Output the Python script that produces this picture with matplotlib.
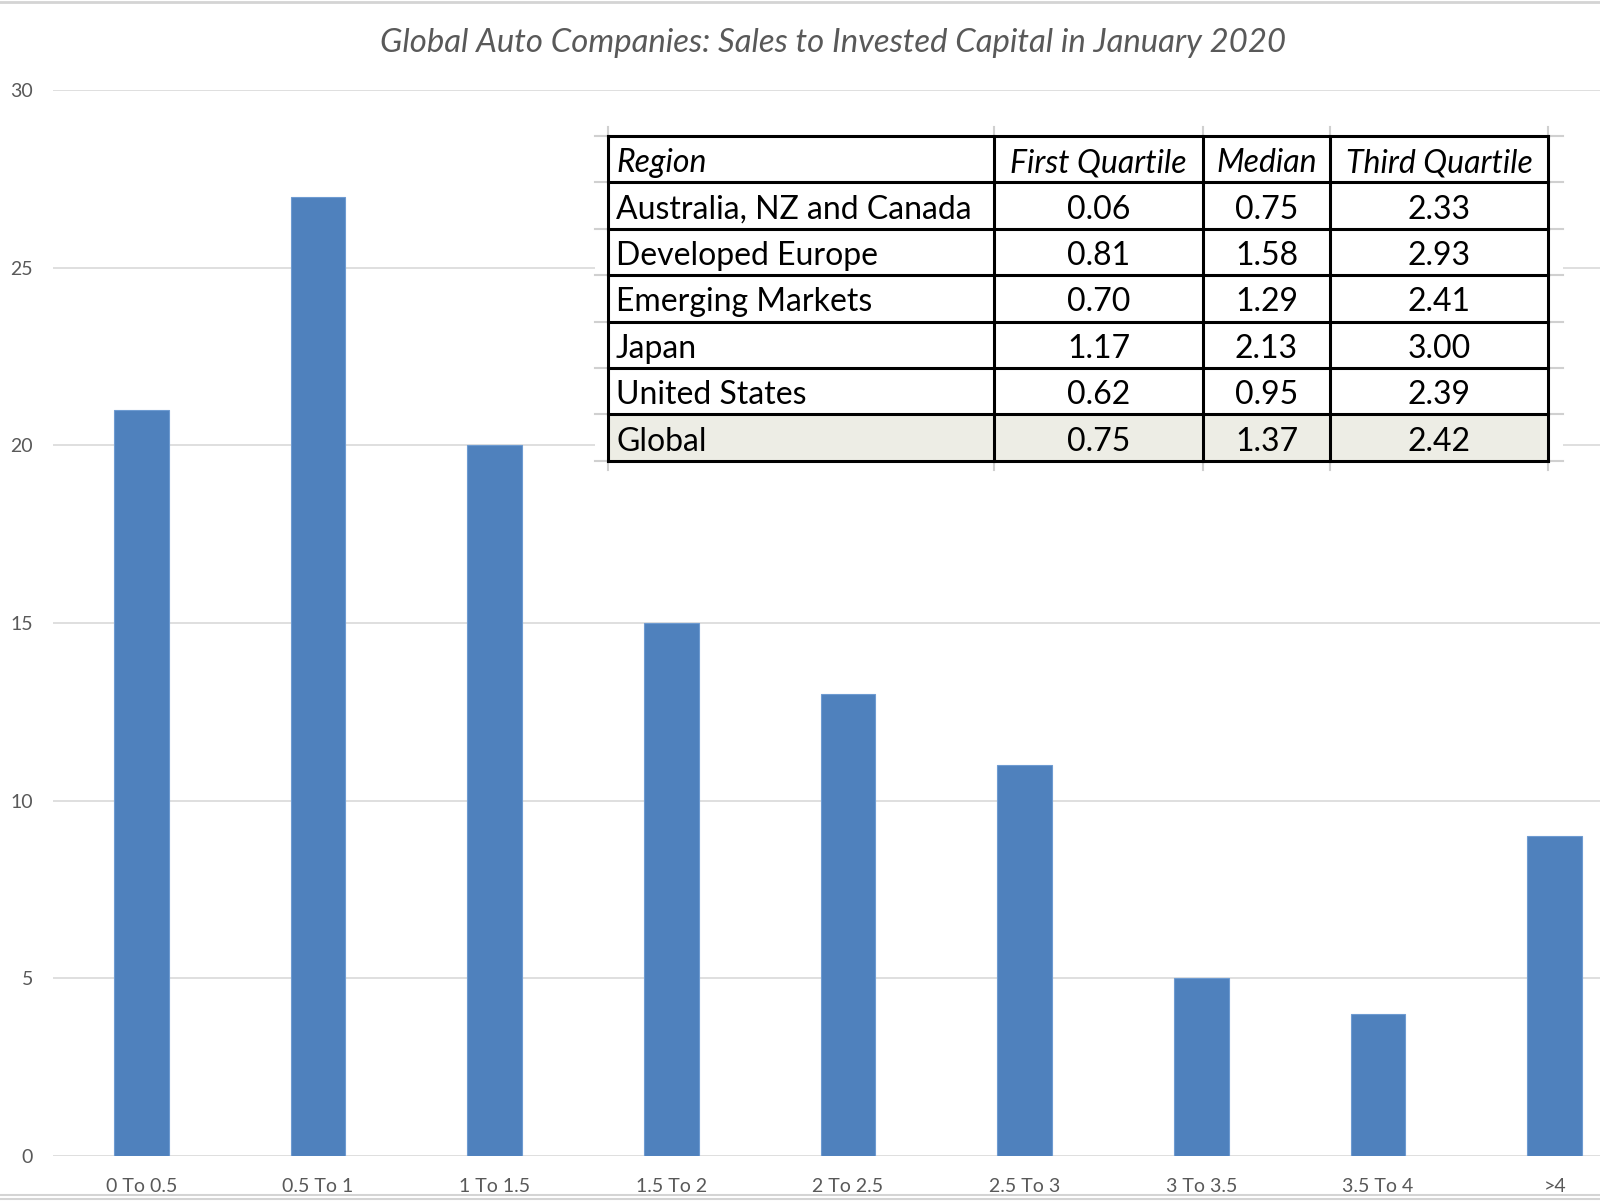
import matplotlib
matplotlib.use('Agg')
import matplotlib.pyplot as plt
from matplotlib.patches import Rectangle

plt.rcParams['font.family'] = ['Lato', 'DejaVu Sans']

bar_blue = '#4F81BD'
grid_gray = '#D9D9D9'
text_gray = '#595959'

bins = ['0 To 0.5', '0.5 To 1', '1 To 1.5', '1.5 To 2', '2 To 2.5',
        '2.5 To 3', '3 To 3.5', '3.5 To 4', '>4']
counts = [21, 27, 20, 15, 13, 11, 5, 4, 9]

header = ['Region', 'First Quartile', 'Median', 'Third Quartile']
regions = ['Australia, NZ and Canada', 'Developed Europe', 'Emerging Markets',
           'Japan', 'United States', 'Global']
first_q = [0.06, 0.81, 0.70, 1.17, 0.62, 0.75]
median = [0.75, 1.58, 1.29, 2.13, 0.95, 1.37]
third_q = [2.33, 2.93, 2.41, 3.00, 2.39, 2.42]

W, H = 1600, 1202
fig = plt.figure(figsize=(W / 100, H / 100), dpi=100)

# main chart, right edge runs past the picture like the cropped original
x0, x1 = 53, 1643
y0, y1 = 1156, 90
ax = fig.add_axes([x0 / W, (H - y0) / H, (x1 - x0) / W, (y0 - y1) / H])
xs = list(range(len(bins)))
ax.bar(xs, counts, width=0.31, color=bar_blue, edgecolor='#6E9BD1', linewidth=0.8, zorder=3)
ax.set_xlim(-0.5, len(bins) - 0.5)
ax.set_ylim(0, 30)
ax.set_yticks(range(0, 31, 5))
ax.yaxis.grid(True, color=grid_gray, linewidth=1.2)
ax.set_axisbelow(True)
for s in ax.spines.values():
    s.set_visible(False)
ax.set_xticks(xs)
ax.set_xticklabels(bins)
ax.tick_params(axis='both', length=0, labelsize=14, colors=text_gray)
ax.tick_params(axis='y', pad=14.5)
ax.tick_params(axis='x', pad=16)

fig.text(833 / W, 1 - 43 / H, 'Global Auto Companies: Sales to Invested Capital in January 2020',
         ha='center', va='center', fontsize=23.7, style='italic', color=text_gray)

# overlay in pixel coordinates for the pasted table and sheet borders
ov = fig.add_axes([0, 0, 1, 1], zorder=5)
ov.set_xlim(0, W)
ov.set_ylim(H, 0)
ov.axis('off')
ov.patch.set_alpha(0)

ov.plot([0, W], [2, 2], color='#D4D4D4', lw=2)
ov.plot([0, W], [1195, 1195], color='#D4D4D4', lw=1.5)
ov.plot([0, W], [1199, 1199], color='#D4D4D4', lw=1.5)

col_x = [608, 994, 1203, 1330, 1548]
row_y = [136 + 46.4 * i for i in range(8)]
bg_l, bg_r = 595, 1563
ov.add_patch(Rectangle((bg_l, row_y[0] - 9), bg_r - bg_l, row_y[-1] - row_y[0] + 18,
                       facecolor='white', edgecolor='none', zorder=1))
ov.add_patch(Rectangle((col_x[0], row_y[6]), col_x[-1] - col_x[0], row_y[7] - row_y[6],
                       facecolor='#EDEDE5', edgecolor='none', zorder=2))
# spreadsheet cell stubs
for y in row_y:
    ov.plot([bg_l, col_x[0]], [y, y], color='#D0D0D0', lw=1.5, zorder=2)
    ov.plot([col_x[-1], bg_r], [y, y], color='#D0D0D0', lw=1.5, zorder=2)
for x in col_x:
    ov.plot([x, x], [row_y[0] - 9, row_y[0]], color='#D0D0D0', lw=1.5, zorder=2)
    ov.plot([x, x], [row_y[-1], row_y[-1] + 9], color='#D0D0D0', lw=1.5, zorder=2)
for y in row_y:
    ov.plot([col_x[0], col_x[-1]], [y, y], color='black', lw=2.2, zorder=3)
for x in col_x:
    ov.plot([x, x], [row_y[0], row_y[-1]], color='black', lw=2.2, zorder=3)

tsize = 23
def cell(r, c, s, italic=False):
    yc = (row_y[r] + row_y[r + 1]) / 2 + 4
    if c == 0:
        ov.text(col_x[0] + 8, yc, s, ha='left', va='center', fontsize=tsize,
                style='italic' if italic else 'normal', color='black', zorder=4)
    else:
        ov.text((col_x[c] + col_x[c + 1]) / 2, yc, s, ha='center', va='center', fontsize=tsize,
                style='italic' if italic else 'normal', color='black', zorder=4)

for c, h in enumerate(header):
    cell(0, c, h, italic=True)
for i, name in enumerate(regions):
    cell(i + 1, 0, name)
    cell(i + 1, 1, '{:.2f}'.format(first_q[i]))
    cell(i + 1, 2, '{:.2f}'.format(median[i]))
    cell(i + 1, 3, '{:.2f}'.format(third_q[i]))

fig.savefig('out.png', dpi=100)
